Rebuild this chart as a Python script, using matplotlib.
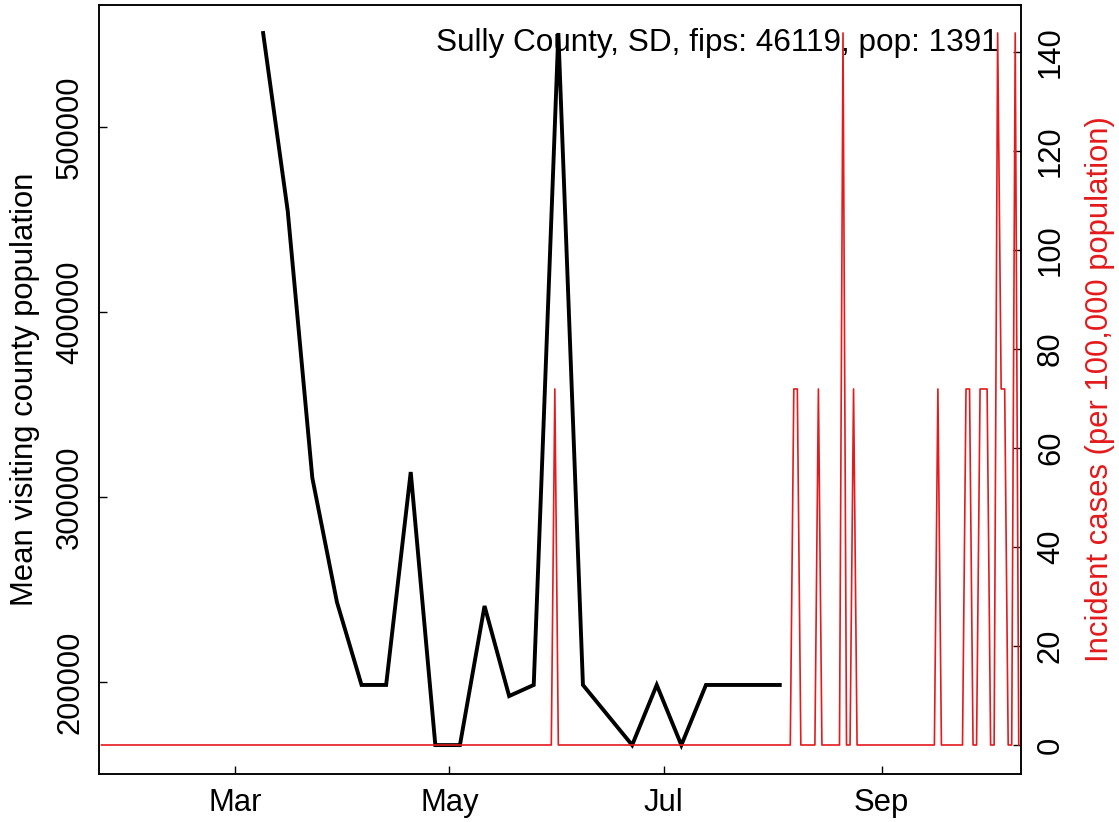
import numpy as np
import pandas as pd
import matplotlib
matplotlib.use("Agg")
import matplotlib.pyplot as plt
import matplotlib.dates as mdates

plt.rcParams['font.family'] = ['Liberation Sans', 'DejaVu Sans']

# ---- data ----
county_label = "Sully County, SD, fips: 46119, pop: 1391"
population = 1391

visit_dates = ['2020-03-09', '2020-03-16', '2020-03-23', '2020-03-30', '2020-04-06',
               '2020-04-13', '2020-04-20', '2020-04-27', '2020-05-04', '2020-05-11',
               '2020-05-18', '2020-05-25', '2020-06-01', '2020-06-08', '2020-06-22',
               '2020-06-29', '2020-07-06', '2020-07-13', '2020-07-20', '2020-07-27',
               '2020-08-03']
visit_pop = [550800, 454600, 310300, 243200, 198400,
             198400, 313500, 165900, 165900, 241100,
             192400, 198400, 550800, 198400, 165900,
             198400, 165900, 198400, 198400, 198400,
             198400]

case_start = '2020-01-23'
case_end = '2020-10-10'
case_dates = ['2020-05-31', '2020-08-07', '2020-08-08', '2020-08-14', '2020-08-21',
              '2020-08-24', '2020-09-17', '2020-09-25', '2020-09-26', '2020-09-29',
              '2020-09-30', '2020-10-01', '2020-10-04', '2020-10-05', '2020-10-06',
              '2020-10-09']
case_counts = [1, 1, 1, 1, 2,
               1, 1, 1, 1, 1,
               1, 1, 2, 1, 1,
               2]

month_ticks = ['2020-03-01', '2020-05-01', '2020-07-01', '2020-09-01']
month_labels = ['Mar', 'May', 'Jul', 'Sep']
left_ticks = [200000, 300000, 400000, 500000]
right_ticks = [0, 20, 40, 60, 80, 100, 120, 140]

# ---- build series ----
days = pd.date_range(case_start, case_end, freq='D')
daily = pd.Series(0.0, index=days)
for d, c in zip(case_dates, case_counts):
    daily[pd.Timestamp(d)] = c
incidence = daily / population * 100000

RED = '#E41A1C'
W, H = 1119, 822
fig = plt.figure(figsize=(W / 100, H / 100), dpi=100)
ax_l, ax_r, ax_t, ax_b = 99, 1020.7, 5, 774
ax = fig.add_axes([ax_l / W, 1 - ax_b / H, (ax_r - ax_l) / W, (ax_b - ax_t) / H])

vd = pd.to_datetime(visit_dates)
ax.plot(vd, visit_pop, color='black', lw=2.8, zorder=3, solid_joinstyle='miter')
ax.set_ylim(150270, 565946)
mar1 = mdates.date2num(pd.Timestamp('2020-03-01'))
ax.set_xlim(mar1 - 38.7, mar1 + 223.56)
ax.set_xticks(mdates.date2num(pd.to_datetime(month_ticks)))
ax.set_xticklabels(month_labels)
ax.set_yticks(left_ticks)
ax.set_yticklabels([str(v) for v in left_ticks])

ax.text((717 - ax_l) / (ax_r - ax_l), 1 - (43 - ax_t) / (ax_b - ax_t), county_label,
        transform=ax.transAxes, ha='center', va='center', fontsize=22.7, zorder=1)

ax2 = ax.twinx()
ax2.plot(incidence.index, incidence.values, color=RED, lw=1.2, zorder=3)
ax2.set_ylim(-5.856, 149.43)
ax2.set_yticks(right_ticks)
ax2.set_xlim(mar1 - 38.7, mar1 + 223.56)

for a in (ax, ax2):
    for s in a.spines.values():
        s.set_linewidth(1.1)
        s.set_color('black')
    a.tick_params(direction='in', length=6, width=1.0, labelsize=22.3)
ax.tick_params(axis='x', pad=10)
ax.tick_params(axis='y', pad=10)
ax2.tick_params(axis='y', pad=11)
for lbl in ax.get_yticklabels():
    lbl.set_rotation(90)
    lbl.set_va('center')
for lbl in ax2.get_yticklabels():
    lbl.set_rotation(90)
    lbl.set_va('center')

fig.text(25 / W, 1 - 389 / H, 'Mean visiting county population', rotation=90,
         ha='center', va='center', fontsize=22.3)
fig.text(1100 / W, 1 - 389 / H, 'Incident cases (per 100,000 population)', rotation=90,
         ha='center', va='center', fontsize=22.3, color=RED)

fig.savefig('out.png', dpi=100, facecolor='white')
